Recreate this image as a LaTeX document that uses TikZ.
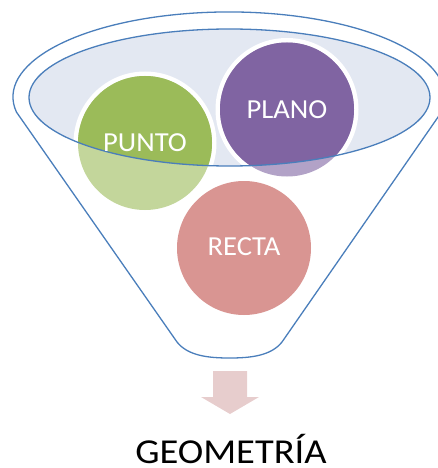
\documentclass[tikz,border=0pt]{standalone}
\usepackage{fontspec}
\setmainfont{Carlito}
\definecolor{funnelblue}{HTML}{4A7EBB}
\definecolor{ellfill}{HTML}{E3E8F2}
\definecolor{gdark}{HTML}{9BBB59}
\definecolor{glight}{HTML}{C3D69B}
\definecolor{pdark}{HTML}{8064A2}
\definecolor{plight}{HTML}{B2A2C7}
\definecolor{rpink}{HTML}{D99592}
\definecolor{arrowpink}{HTML}{E7CDCD}
\begin{document}
\begin{tikzpicture}[x=1pt,y=-1pt,
  outline/.style={draw=funnelblue,line width=1.3pt},
  lbl/.style={text=white,font=\fontsize{27.5}{30}\selectfont,inner sep=0pt,xscale=1.04},
  ring/.style={fill=white}]
\useasboundingbox (0,0) rectangle (438,468);
\begin{scope}
\clip (0,0) rectangle (438,468);
% funnel outline
\draw[outline,line join=round] (16.4,112) arc[start angle=190.2,end angle=-10.2,x radius=216pt,y radius=85pt]
  -- (282,342) .. controls (271,356) and (250,358) .. (229.5,358)
  .. controls (209,358) and (188,356) .. (177,342) -- cycle;
\end{scope}
% inner ellipse fill
\fill[ellfill] (229.5,97.5) ellipse[x radius=200.5pt,y radius=68.5pt];
% circles
\fill[rpink] (244,248) circle[radius=67pt];
\fill[ring] (145,143) circle[radius=71.5pt];
\fill[glight] (145,143) circle[radius=67pt];
\fill[ring] (287,109.5) circle[radius=71.5pt];
\fill[plight] (287,109.5) circle[radius=67pt];
\begin{scope}
  \clip (229.5,97.5) ellipse[x radius=200.5pt,y radius=68.5pt];
  \fill[gdark] (145,143) circle[radius=67pt];
  \fill[pdark] (287,109.5) circle[radius=67pt];
\end{scope}
\draw[outline] (229.5,97.5) ellipse[x radius=200.5pt,y radius=68.5pt];
% labels
\node[lbl] (punto) at (145,143) {PUNTO};
\node[lbl] (plano) at (287,109.5) {PLANO};
\node[lbl] (recta) at (244,247) {RECTA};
% arrow
\fill[arrowpink] (213,371) -- (247,371) -- (247,397) -- (259,397) -- (230,414) -- (201,397) -- (213,397) -- cycle;
% result text
\node[font=\fontsize{35}{40}\selectfont,inner sep=0pt,text depth=0pt,anchor=base,xscale=1.1] (geo) at (231,463.5) {GEOMETRÍA};
\end{tikzpicture}
\end{document}
